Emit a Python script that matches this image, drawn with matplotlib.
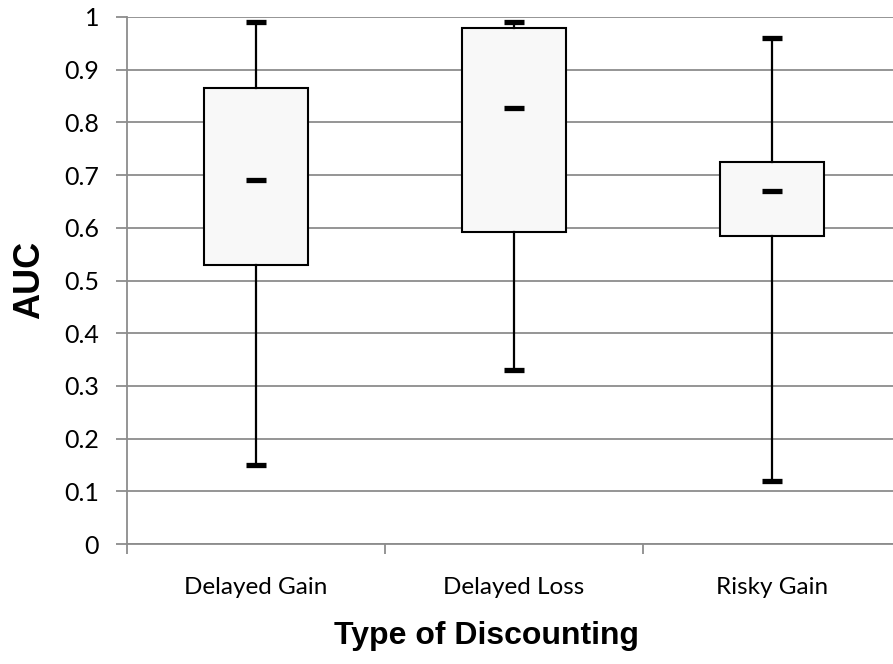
import matplotlib
matplotlib.use('Agg')
import matplotlib.pyplot as plt

# data
categories = ['Delayed Gain', 'Delayed Loss', 'Risky Gain']
mins = [0.15, 0.33, 0.12]
q1s = [0.53, 0.592, 0.585]
medians = [0.69, 0.827, 0.67]
q3s = [0.866, 0.98, 0.724]
maxs = [0.99, 0.99, 0.96]
yticks = [0, 0.1, 0.2, 0.3, 0.4, 0.5, 0.6, 0.7, 0.8, 0.9, 1]
ytick_labels = ['0', '0.1', '0.2', '0.3', '0.4', '0.5', '0.6', '0.7', '0.8', '0.9', '1']


def main():
    fig = plt.figure(figsize=(8.93, 6.64), dpi=100)
    # axes runs off the right edge, as in the reference
    ax = fig.add_axes([127 / 893, 1 - 544 / 664, 774 / 893, 527 / 664])

    pos = [1, 2, 3]
    stats = []
    for i, name in enumerate(categories):
        stats.append({'label': name, 'whislo': mins[i], 'q1': q1s[i], 'med': medians[i],
                      'q3': q3s[i], 'whishi': maxs[i], 'fliers': []})

    ax.bxp(stats, positions=pos, widths=0.4, patch_artist=True, showfliers=False,
           capwidths=0.08,
           boxprops=dict(facecolor='#f8f8f8', edgecolor='black', linewidth=1.5),
           whiskerprops=dict(color='black', linewidth=1.6),
           capprops=dict(color='black', linewidth=3.8, solid_capstyle='butt'),
           medianprops=dict(linewidth=0), zorder=3)
    ax.hlines(medians, [p - 0.04 for p in pos], [p + 0.04 for p in pos],
              colors='black', linewidth=3.8, zorder=4)

    ax.set_xlim(0.5, 3.5)
    ax.set_ylim(0, 1)
    ax.set_yticks(yticks)
    ax.set_yticklabels(ytick_labels, family='Lato', fontsize=18)
    ax.set_xticks([0.5, 1.5, 2.5, 3.5])
    ax.set_xticklabels([])
    ax.set_xticks(pos, minor=True)
    ax.set_xticklabels(categories, minor=True, family='Lato', fontsize=17.5)
    ax.tick_params(axis='x', which='minor', length=0, pad=24)
    ax.tick_params(axis='x', which='major', length=7, width=1.3, color='#8c8c8c', direction='out')
    ax.tick_params(axis='y', length=8, width=1.3, color='#8c8c8c', pad=12)

    ax.grid(axis='y', color='#8c8c8c', linewidth=1.3)
    ax.set_axisbelow(True)
    for s in ['top', 'right']:
        ax.spines[s].set_visible(False)
    for s in ['left', 'bottom']:
        ax.spines[s].set_color('#8c8c8c')
        ax.spines[s].set_linewidth(1.3)

    fig.text(30 / 893, 1 - 280 / 664, 'AUC', rotation=90, ha='center', va='center',
             family='Liberation Sans', fontweight='bold', fontsize=26)
    fig.text(487 / 893, 1 - 636 / 664, 'Type of Discounting', ha='center', va='center',
             family='Liberation Sans', fontweight='bold', fontsize=23)

    fig.savefig('out.png', dpi=100)


if __name__ == '__main__':
    main()
